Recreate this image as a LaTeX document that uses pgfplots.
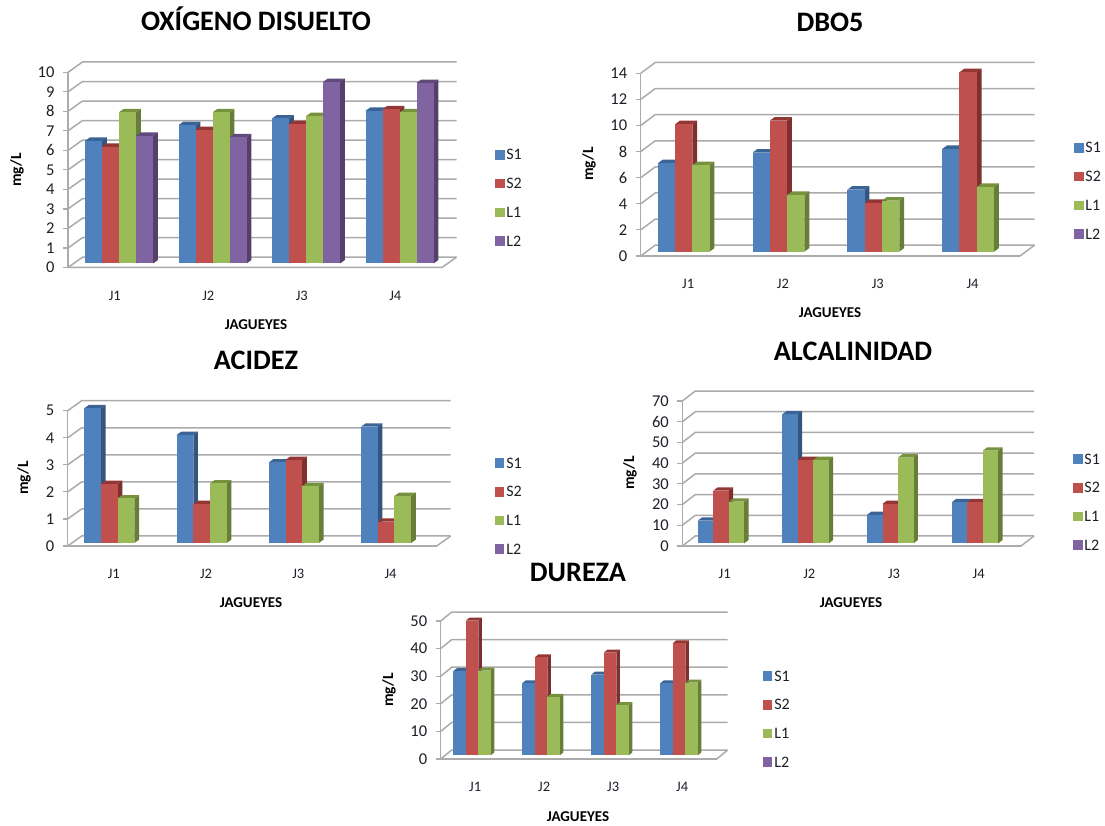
\documentclass[border=0pt]{standalone}
\usepackage{fontspec}
\setmainfont{Carlito}
\usepackage{pgfplots}
\pgfplotsset{compat=1.18}
\definecolor{Sa}{HTML}{4F81BD}\definecolor{Sas}{HTML}{35557F}\definecolor{Sat}{HTML}{3A6496}
\definecolor{Sb}{HTML}{C0504D}\definecolor{Sbs}{HTML}{7F2F2D}\definecolor{Sbt}{HTML}{943633}
\definecolor{La}{HTML}{9BBB59}\definecolor{Las}{HTML}{687D3A}\definecolor{Lat}{HTML}{76923C}
\definecolor{Lb}{HTML}{8064A2}\definecolor{Lbs}{HTML}{55406D}\definecolor{Lbt}{HTML}{604A7B}
\definecolor{gridc}{HTML}{ABABAB}
\definecolor{txt}{HTML}{1E1E28}
% geometry: X0 X1 Y0 Ytop ymax step dx dy base barwidth offset
\newcommand\setchart[9]{%
  \def\Xa{#1}\def\Xb{#2}\def\Ya{#3}\def\Yb{#4}\def\ymaxv{#5}\def\ystep{#6}%
  \def\ddx{#7}\def\ddy{#8}\def\basepx{#9}%
  \pgfmathsetmacro\W{#2-#1}\pgfmathsetmacro\H{#3-#4}%
  \pgfmathsetmacro\cat{(#2-#1)/4}\pgfmathsetmacro\ppu{(#3-#4)/#5}%
  \pgfmathsetmacro\Yp{825-#3}%
}
\newcommand\setbars[2]{\def\bw{#1}\def\off{#2}}
% text positions in picture pixels
\newcommand\fr[2]{%
  \pgfmathsetmacro\fx{(#1-\Xa)/\W}\pgfmathsetmacro\fy{(\Ya-#2)/\H}}
\newcommand\tdbar[4]{%
  \pgfmathsetmacro\xa{#1-0.5+(\off+#2*\bw)/\cat}%
  \pgfmathsetmacro\xb{\xa+\bw/\cat}%
  \pgfmathsetmacro\xc{\xb+(\ddx/3)/\cat}%
  \pgfmathsetmacro\xl{\xa+(\ddx/3)/\cat}%
  \pgfmathsetmacro\ya{\basepx/\ppu}%
  \pgfmathsetmacro\yt{#3+\basepx/\ppu}%
  \pgfmathsetmacro\yab{\ya+(\ddy/3)/\ppu}%
  \pgfmathsetmacro\ytb{\yt+(\ddy/3)/\ppu}%
  \edef\tmp{\noexpand\addplot[fill=#4s,draw=none,forget plot] coordinates {(\xb,\ya)(\xc,\yab)(\xc,\ytb)(\xb,\yt)} --cycle;
  \noexpand\addplot[fill=#4t,draw=none,forget plot] coordinates {(\xa,\yt)(\xb,\yt)(\xc,\ytb)(\xl,\ytb)} --cycle;
  \noexpand\addplot[fill=#4,draw=none,forget plot] coordinates {(\xa,\ya)(\xb,\ya)(\xb,\yt)(\xa,\yt)} --cycle;}%
  \tmp}
\newcommand\series[6]{\tdbar{1}{#1}{#3}{#2}\tdbar{2}{#1}{#4}{#2}\tdbar{3}{#1}{#5}{#2}\tdbar{4}{#1}{#6}{#2}}
\newcommand\walls{%
  \pgfmathsetmacro\bx{0.5+\ddx/\cat}%
  \pgfmathsetmacro\ex{4.5+\ddx/\cat}%
  \pgfplotsforeachungrouped \yy in {0,\ystep,...,\ymaxv}{%
    \pgfmathsetmacro\yby{\yy+\ddy/\ppu}%
    \edef\tmp{\noexpand\addplot[gridc,line width=1.5pt,forget plot] coordinates {(0.5,\yy)(\bx,\yby)(\ex,\yby)};}\tmp}%
  \pgfmathsetmacro\yby{\ddy/\ppu}%
  \edef\tmp{\noexpand\addplot[gridc,line width=1.5pt,forget plot] coordinates {(0.5,0)(4.5,0)(\ex,\yby)};}\tmp}
\newcommand\legendall{%
  \addlegendimage{Sa}\addlegendentry{S1}%
  \addlegendimage{Sb}\addlegendentry{S2}%
  \addlegendimage{La}\addlegendentry{L1}%
  \addlegendimage{Lb}\addlegendentry{L2}}
\pgfplotsset{
  tdchart/.style={
    scale only axis, width=\W pt, height=\H pt,
    at={(\Xa pt,\Yp pt)}, anchor=south west, clip=false,
    xmin=0.5, xmax=4.5, ymin=0, ymax=\ymaxv, ytick distance=\ystep,
    xtick={1,2,3,4}, xticklabels={J1,J2,J3,J4},
    axis lines=left, axis line style={-,gridc,line width=1.5pt},
    tick align=outside, major tick length=5pt,
    x tick style={draw=none}, y tick style={gridc,line width=1.2pt},
    tick label style={font=\fontsize{16.5}{17}\selectfont,text=txt},
    /pgf/number format/assume math mode=true,
    xticklabel style={yshift=-15pt,font=\fontsize{14.5}{15}\selectfont},
    yticklabel style={xshift=-5pt},
    legend image code/.code={\fill[##1] (0pt,-4pt) rectangle (8.5pt,4.5pt);},
    legend cell align=left,
    title style={font=\fontsize{28.2}{29}\selectfont\bfseries,anchor=center,inner sep=0pt,text=black},
    xlabel style={font=\fontsize{15}{16}\selectfont\bfseries,anchor=center,inner sep=0pt,text=black},
    ylabel style={font=\fontsize{15.5}{16}\selectfont\bfseries,anchor=center,inner sep=0pt,text=black,rotate=0},
  },
  lg/.style={legend style={draw=none,fill=none,at={(\fx,\fy)},anchor=north west,inner sep=0pt,outer sep=0pt,
     nodes={inner sep=0pt,text height=10pt,text depth=0pt,font=\fontsize{16}{16}\selectfont,text=txt},
     row sep=18.7pt,column sep=2.5pt}},
}
\begin{document}
\begin{tikzpicture}[x=1pt,y=1pt]
\path[use as bounding box] (0,0) rectangle (1105,825);
% ---------- OXIGENO
\setchart{68}{442}{267.5}{72.3}{10}{1}{14.5}{10.3}{4}\setbars{17}{17}
\fr{256}{25}\edef\tx{\fx}\edef\ty{\fy}
\fr{256}{325}\edef\lx{\fx}\edef\ly{\fy}
\fr{17}{170}\edef\mx{\fx}\edef\my{\fy}
\fr{495}{150}
\begin{axis}[tdchart,lg,title={OXÍGENO DISUELTO},xlabel={JAGUEYES},ylabel={mg/L},
  title style={at={(\tx,\ty)}},xlabel style={at={(\lx,\ly)}},ylabel style={at={(\mx,\my)}}]
\walls
\series{0}{Sa}{6.28}{7.09}{7.43}{7.82}
\series{1}{Sb}{5.98}{6.83}{7.14}{7.90}
\series{2}{La}{7.75}{7.74}{7.55}{7.74}
\series{3}{Lb}{6.54}{6.46}{9.30}{9.25}
\legendall
\end{axis}
% ---------- DBO5
\setchart{640.7}{1020}{256}{73.3}{14}{2}{14.5}{10.8}{4.3}\setbars{17.3}{17}
\fr{830}{28}\edef\tx{\fx}\edef\ty{\fy}
\fr{830}{313}\edef\lx{\fx}\edef\ly{\fy}
\fr{589}{164}\edef\mx{\fx}\edef\my{\fy}
\fr{1074}{143}
\begin{axis}[tdchart,lg,title={DBO5},xlabel={JAGUEYES},ylabel={mg/L},
  title style={at={(\tx,\ty)}},xlabel style={at={(\lx,\ly)}},ylabel style={at={(\mx,\my)}}]
\walls
\series{0}{Sa}{6.77}{7.59}{4.75}{7.87}
\series{1}{Sb}{9.76}{10.04}{3.73}{13.75}
\series{2}{La}{6.62}{4.34}{3.91}{4.96}
\legendall
\end{axis}
% ---------- ACIDEZ
\setchart{67.7}{436.7}{546}{410.7}{5}{1}{14}{10}{3}\setbars{16.7}{16.6}
\fr{256}{366}\edef\tx{\fx}\edef\ty{\fy}
\fr{251}{603}\edef\lx{\fx}\edef\ly{\fy}
\fr{24}{478}\edef\mx{\fx}\edef\my{\fy}
\fr{495}{458}
\begin{axis}[tdchart,lg,title={ACIDEZ},xlabel={JAGUEYES},ylabel={mg/L},
  title style={at={(\tx,\ty)}},xlabel style={at={(\lx,\ly)}},ylabel style={at={(\mx,\my)}}]
\walls
\series{0}{Sa}{4.98}{3.99}{2.98}{4.30}
\series{1}{Sb}{2.18}{1.44}{3.07}{0.79}
\series{2}{La}{1.65}{2.20}{2.10}{1.74}
\legendall
\end{axis}
% ---------- ALCALINIDAD
\setchart{682.3}{1021}{546}{401}{70}{10}{13}{10}{2.7}\setbars{15.5}{15.4}
\fr{853}{357}\edef\tx{\fx}\edef\ty{\fy}
\fr{851}{603}\edef\lx{\fx}\edef\ly{\fy}
\fr{630}{473}\edef\mx{\fx}\edef\my{\fy}
\fr{1073}{454}
\begin{axis}[tdchart,lg,title={ALCALINIDAD},xlabel={JAGUEYES},ylabel={mg/L},
  title style={at={(\tx,\ty)}},xlabel style={at={(\lx,\ly)}},ylabel style={at={(\mx,\my)}}]
\walls
\series{0}{Sa}{10.9}{62.3}{13.7}{19.8}
\series{1}{Sb}{25.4}{40.2}{19.0}{19.8}
\series{2}{La}{20.1}{40.2}{41.4}{44.7}
\legendall
\end{axis}
% ---------- DUREZA
\setchart{440.7}{716.7}{759}{621}{50}{10}{11}{9}{3.7}\setbars{12.5}{12.6}
\fr{578}{578}\edef\tx{\fx}\edef\ty{\fy}
\fr{578}{816.7}\edef\lx{\fx}\edef\ly{\fy}
\fr{389}{690}\edef\mx{\fx}\edef\my{\fy}
\fr{763}{671}
\begin{axis}[tdchart,lg,title={DUREZA},xlabel={JAGUEYES},ylabel={mg/L},
  title style={at={(\tx,\ty)}},xlabel style={at={(\lx,\ly)}},ylabel style={at={(\mx,\my)}}]
\walls
\series{0}{Sa}{30.5}{26.1}{29.2}{26.1}
\series{1}{Sb}{48.8}{35.5}{37.2}{40.6}
\series{2}{La}{30.7}{21.2}{18.2}{26.3}
\legendall
\end{axis}
\end{tikzpicture}
\end{document}
